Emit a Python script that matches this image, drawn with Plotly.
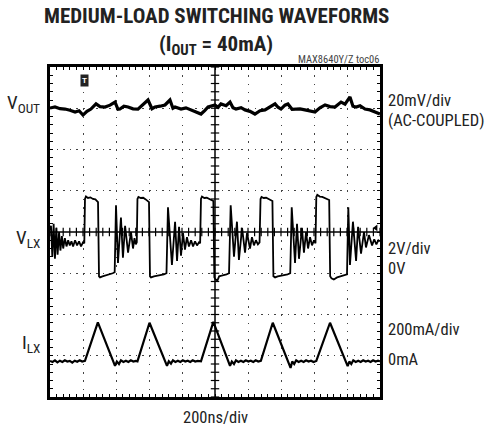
import numpy as np
import plotly.graph_objects as go

# ---------------- data ----------------
# time axis: 200 ns/div, 10 divisions
T_SPAN_NS = 2000
# VOUT (AC-coupled, mV), 20 mV/div
vout_t = [0, 30, 61, 91, 121, 152, 176, 200, 224, 248, 279, 303, 333, 364, 394, 412, 424, 448,
          473, 503, 533, 564, 594, 618, 636, 667, 697, 727, 745, 758, 794, 824, 855, 885, 915,
          939, 958, 1000, 1018, 1036, 1067, 1091, 1109, 1127, 1158, 1182, 1212, 1242, 1273,
          1303, 1333, 1364, 1382, 1400, 1424, 1442, 1467, 1491, 1515, 1545, 1576, 1606, 1636,
          1667, 1697, 1727, 1764, 1788, 1818, 1836, 1855, 1879, 1909, 1939, 1970, 2000]
vout_mv = [0.1, 0.6, -0.2, -0.4, -1.0, -1.8, -1.2, -3.3, -1.5, -0.4, 2.1, 0.8, 0.6, 1.5, 3.0,
           -0.5, -0.4, 1.0, 0.6, -0.3, -0.4, 1.8, 4.0, -0.2, 0.6, 1.0, 1.6, 4.0, 0.0, 0.6, -0.4,
           0.2, -0.8, -1.5, -2.8, -1.0, 0.6, 1.6, 0.5, 2.1, 1.2, 3.0, 0.2, -0.4, 0.3, -0.8, -1.5,
           -2.8, -1.2, -0.8, 0.8, 2.1, 0.5, -0.4, 1.5, 2.1, -0.5, -0.4, -0.3, -0.8, -1.5, -1.8,
           0.2, 1.6, 0.8, 0.6, 3.0, 2.0, 5.5, 1.0, 0.6, 1.2, -0.4, -0.8, -1.8, -2.8]

# VLX (V), 2 V/div
vlx_t = [0, 6, 14, 22, 30, 38, 46, 55, 63, 72, 80, 90, 100, 110, 120, 130, 140, 152, 164, 176, 188, 200, 208,
         212, 218, 230, 245, 260, 275, 285, 291, 297, 303, 318, 333, 348, 364, 380, 392,
         400, 412, 430, 442, 455, 473, 491, 503, 512, 520, 526,
         530, 536, 550, 565, 580, 594, 600, 606, 612, 630, 650, 670, 690, 706,
         715, 739, 758, 770, 782, 794, 806, 818, 830, 842, 855, 867, 879, 891, 903, 910,
         915, 921, 935, 950, 965, 980, 990, 996, 1003, 1015, 1025, 1040, 1055, 1070, 1085,
         1095, 1115, 1133, 1145, 1164, 1182, 1194, 1212, 1224, 1236, 1248, 1260, 1270,
         1276, 1282, 1295, 1310, 1325, 1340, 1348, 1354, 1364, 1380, 1400, 1420, 1440, 1456,
         1465, 1485, 1497, 1509, 1527, 1539, 1552, 1564, 1576, 1588, 1600, 1609,
         1614, 1620, 1635, 1650, 1665, 1680, 1692, 1698, 1706, 1720, 1740, 1760, 1780, 1800,
         1808, 1818, 1836, 1855, 1867, 1885, 1903, 1915, 1933, 1952, 1965, 1978, 1990, 2000]
vlx_v = [2.1, 2.3, 0.8, 2.4, 0.7, 2.2, 0.9, 2.0, 1.1, 1.8, 1.2, 1.7, 1.3, 1.6, 1.35, 1.55, 1.3, 1.6, 1.35, 1.55, 1.3, 1.5, 1.45,
         3.6, 3.72, 3.65, 3.68, 3.6, 3.58, 3.5, 3.45, -0.15, -0.2, -0.15, -0.12, -0.1, -0.05, 0.0, 0.05,
         3.3, 0.5, 2.7, 0.75, 2.3, 1.0, 2.0, 1.2, 1.7, 1.4, 1.5,
         3.6, 3.7, 3.65, 3.66, 3.58, 3.5, 3.45, -0.15, -0.2, -0.15, -0.12, -0.08, -0.05, 0.0,
         3.2, 0.4, 2.5, 0.6, 2.25, 0.85, 1.95, 1.15, 1.75, 1.3, 1.6, 1.3, 1.55, 1.35, 1.5, 1.45,
         3.6, 3.72, 3.65, 3.66, 3.6, 3.55, 3.5, -0.2, -0.3, -0.34, -0.15, -0.12, -0.1, -0.05, 0.0,
         3.3, 0.8, 2.5, 0.65, 2.2, 1.0, 1.95, 1.2, 1.75, 1.35, 1.6, 1.4, 1.5,
         3.6, 3.7, 3.65, 3.66, 3.6, 3.55, 3.5, -0.15, -0.2, -0.15, -0.12, -0.08, -0.05, 0.0,
         3.2, 0.5, 2.4, 0.7, 2.2, 1.0, 2.0, 1.2, 1.75, 1.35, 1.6, 1.45,
         3.7, 3.8, 3.72, 3.7, 3.65, 3.6, 3.55, -0.15, -0.25, -0.3, -0.2, -0.15, -0.1, -0.05,
         3.2, 0.4, 2.5, 0.6, 2.25, 0.95, 2.0, 1.25, 1.85, 1.35, 1.65, 1.4, 1.6, 1.55]

# ILX (mA), 200 mA/div
ilx_t = [0, 15, 30, 45, 60, 75, 90, 105, 120, 135, 150, 165, 180, 195, 212,
         290, 394, 405, 418, 430, 445, 460, 475, 490, 505, 520, 530,
         603, 709, 720, 733, 745, 760, 775, 790, 805, 820, 835, 850, 865, 880, 895, 915,
         990, 1091, 1102, 1115, 1127, 1142, 1157, 1172, 1187, 1202, 1217, 1232, 1247, 1262, 1278,
         1350, 1458, 1468, 1480, 1492, 1507, 1522, 1537, 1552, 1567, 1582, 1597, 1614,
         1697, 1804, 1814, 1826, 1838, 1853, 1868, 1883, 1898, 1913, 1928, 1943, 1958, 1973, 1988, 2000]
ilx_ma = [-25, -30, -22, -32, -24, -30, -22, -28, -25, -33, -24, -29, -22, -28, -25,
          162, -49, -28, -40, -22, -30, -24, -30, -22, -28, -25, -27,
          160, -49, -27, -38, -22, -30, -24, -30, -22, -28, -24, -30, -22, -28, -25, -27,
          164, -49, -28, -40, -22, -30, -24, -30, -22, -28, -24, -30, -22, -28, -25,
          160, -59, -28, -40, -22, -30, -24, -30, -22, -28, -24, -30, -25,
          160, -50, -28, -40, -22, -30, -24, -30, -22, -28, -24, -30, -22, -28, -24, -27]

# scope channel settings: (units per division, ground position in divisions)
VOUT_SCALE, VOUT_POS = 20.0, 7.0
VLX_SCALE, VLX_POS = 2.0, 3.0
ILX_SCALE, ILX_POS = 200.0, 1.0

FONT = "Liberation Sans Narrow, Roboto Condensed, Roboto, sans-serif"

fig = go.Figure()

# center cross with division sub-ticks
fig.add_shape(type="line", x0=0, x1=T_SPAN_NS, y0=4, y1=4, line=dict(color="black", width=1.5), layer="below")
fig.add_shape(type="line", x0=1000, x1=1000, y0=0, y1=8, line=dict(color="black", width=1.5), layer="below")
hx = np.arange(0, T_SPAN_NS + 1, 40)
fig.add_trace(go.Scatter(x=hx, y=np.full(hx.shape, 4.0), mode="markers",
                         marker=dict(symbol="line-ns", size=6, line=dict(color="black", width=1.2)),
                         hoverinfo="skip", showlegend=False))
vy = np.arange(0, 8.001, 0.2)
fig.add_trace(go.Scatter(x=np.full(vy.shape, 1000.0), y=vy, mode="markers",
                         marker=dict(symbol="line-ew", size=6, line=dict(color="black", width=1.2)),
                         hoverinfo="skip", showlegend=False))

# waveforms
fig.add_trace(go.Scatter(x=vout_t, y=[VOUT_POS + v / VOUT_SCALE for v in vout_mv], mode="lines",
                         line=dict(color="black", width=3.2), showlegend=False))
fig.add_trace(go.Scatter(x=vlx_t, y=[VLX_POS + v / VLX_SCALE for v in vlx_v], mode="lines",
                         line=dict(color="black", width=1.8), showlegend=False))
fig.add_trace(go.Scatter(x=ilx_t, y=[ILX_POS + v / ILX_SCALE for v in ilx_ma], mode="lines",
                         line=dict(color="black", width=2.2), showlegend=False))

# channel marker at right edge
fig.add_trace(go.Scatter(x=[1975], y=[4.1], mode="markers",
                         marker=dict(symbol="triangle-left", size=6, color="black"),
                         hoverinfo="skip", showlegend=False))

axis_common = dict(showticklabels=False, showline=True, linecolor="black", linewidth=3,
                   mirror="allticks", ticks="inside", ticklen=3, tickcolor="black", tickwidth=1,
                   zeroline=False, showgrid=True, gridcolor="#444444", gridwidth=1, fixedrange=True)
fig.update_xaxes(range=[0, T_SPAN_NS], dtick=200, griddash="1.5px,6.75px",
                 minor=dict(dtick=40, ticks="inside", ticklen=3, tickcolor="black", showgrid=False),
                 **axis_common)
fig.update_yaxes(range=[0, 8], dtick=1, griddash="1.5px,5.1px",
                 minor=dict(dtick=0.2, ticks="inside", ticklen=3, tickcolor="black", showgrid=False),
                 **axis_common)

def px2paper_x(px):
    return (px - 50) / 330.0

def px2paper_y(py):
    return (397 - py) / 330.0

ann = []
def add_text(text, px, py, size, xanchor="left", bold=False, color="#222222"):
    ann.append(dict(text=("<b>%s</b>" % text) if bold else text, x=px2paper_x(px), y=px2paper_y(py),
                    xref="paper", yref="paper", xanchor=xanchor, yanchor="middle", showarrow=False,
                    font=dict(family=FONT, size=size, color=color)))

add_text("MEDIUM-LOAD SWITCHING WAVEFORMS", 216, 16, 21, "center", bold=True)
add_text("(I<sub>OUT</sub> = 40mA)", 216, 46, 21, "center", bold=True)
add_text("MAX8640Y/Z toc06", 381, 60, 10.5, "right", color="#444444")
add_text("V<sub>OUT</sub>", 42, 104, 19, "right")
add_text("V<sub>LX</sub>", 42, 238, 19, "right")
add_text("I<sub>LX</sub>", 42, 343, 19, "right")
add_text("20mV/div", 386, 100, 16.5)
add_text("(AC-COUPLED)", 386, 120, 16.5)
add_text("2V/div", 386, 248, 16.5)
add_text("0V", 386, 268, 16.5)
add_text("200mA/div", 386, 329, 16.5)
add_text("0mA", 386, 359, 16.5)
add_text("200ns/div", 215, 417, 16.5, "center")
# trigger marker
ann.append(dict(text="<b>T</b>", x=212, y=(397 - 80) / 41.25, xref="x", yref="y", showarrow=False,
                font=dict(family="Roboto", size=8, color="white"), bgcolor="#222222",
                borderpad=1, xanchor="center", yanchor="middle"))

fig.update_layout(width=491, height=427, margin=dict(l=50, r=111, t=67, b=30),
                  paper_bgcolor="white", plot_bgcolor="white", annotations=ann, showlegend=False)

fig.write_html("out.html", config={"displayModeBar": False},
               post_script="document.body.style.margin='0';document.body.style.overflow='hidden';")
